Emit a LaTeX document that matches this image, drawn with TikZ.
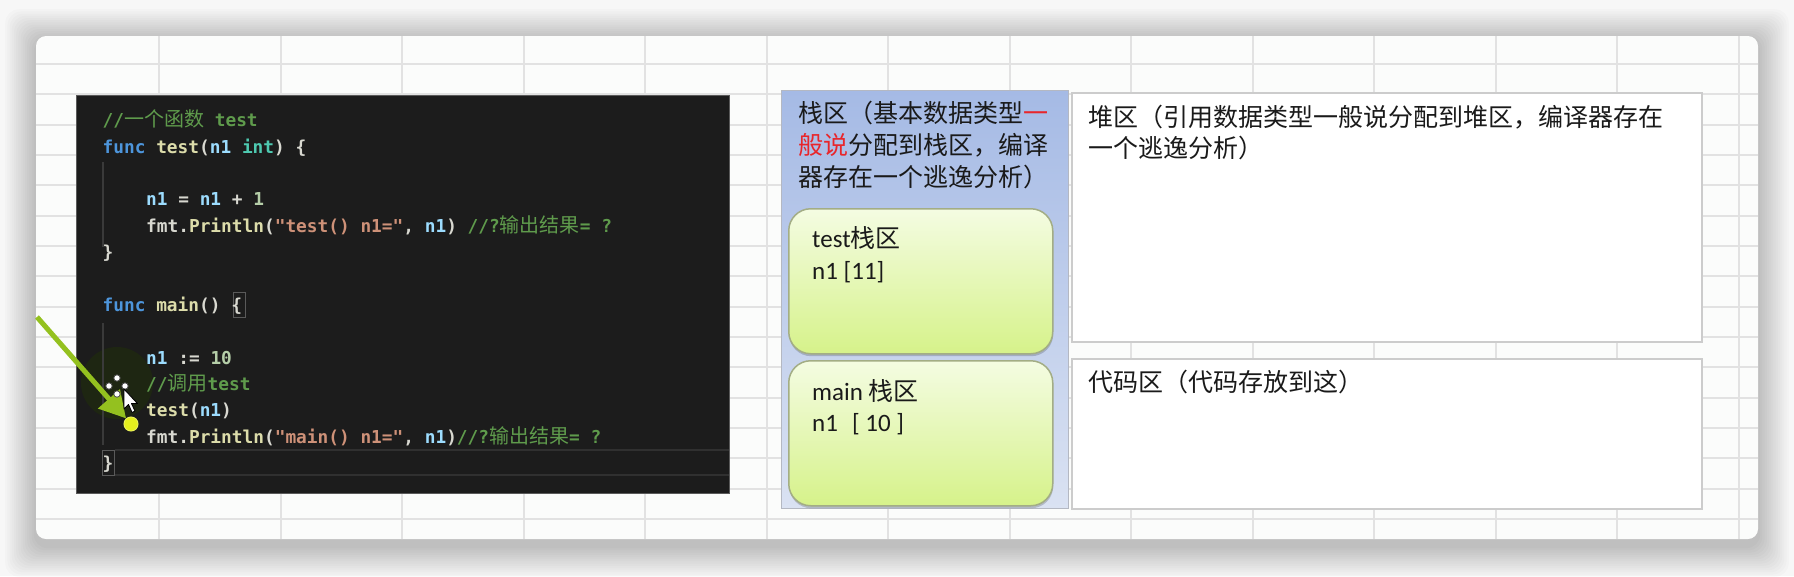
\documentclass[tikz,border=0pt]{standalone}
\usepackage{fontspec}
\setmainfont{Carlito}
\newfontfamily\cjk{Noto Sans CJK SC}
\newfontfamily\codefont{DejaVu Sans Mono}
\usetikzlibrary{arrows.meta}
\definecolor{pagebg}{HTML}{F7F7F7}
\definecolor{gridc}{HTML}{E2E2E2}
\definecolor{cardc}{HTML}{FBFCFB}
\definecolor{codebg}{HTML}{1C1C1C}
\definecolor{codeedge}{HTML}{5A5A5A}
\definecolor{guidec}{HTML}{3A3A3A}
\definecolor{hlc}{HTML}{303030}
\definecolor{ccomc}{HTML}{5F9B4C}
\definecolor{ckeyc}{HTML}{4D95DB}
\definecolor{cfunc}{HTML}{DCDCAA}
\definecolor{cvarc}{HTML}{9CDCFE}
\definecolor{ctypec}{HTML}{4EC9B0}
\definecolor{cstrc}{HTML}{CE9178}
\definecolor{cnumc}{HTML}{B5CEA8}
\definecolor{cplainc}{HTML}{D8D8D0}
\definecolor{haloc}{HTML}{1E2612}
\definecolor{stacktop}{HTML}{A5BAE5}
\definecolor{stackbot}{HTML}{DAE2F2}
\definecolor{stackedge}{HTML}{B4B8C2}
\definecolor{greentop}{HTML}{F4FCE2}
\definecolor{greenbot}{HTML}{D6F28A}
\definecolor{greenedge}{HTML}{A3AD85}
\definecolor{boxedge}{HTML}{CCCCCC}
\definecolor{arrowc}{HTML}{94C11F}
\definecolor{dotc}{HTML}{E4EE1E}
\definecolor{redtxt}{HTML}{E8262B}
\definecolor{txtc}{HTML}{1A1A1A}
\newcommand{\ckw}[1]{\textcolor{ckeyc}{#1}}
\newcommand{\cfn}[1]{\textcolor{cfunc}{#1}}
\newcommand{\cvr}[1]{\textcolor{cvarc}{#1}}
\newcommand{\cty}[1]{\textcolor{ctypec}{#1}}
\newcommand{\cst}[1]{\textcolor{cstrc}{#1}}
\newcommand{\cnm}[1]{\textcolor{cnumc}{#1}}
\newcommand{\ccm}[1]{\textcolor{ccomc}{#1}}
\newcommand{\zhc}[1]{{\cjk\mdseries\fontsize{20}{20}\selectfont #1}}
\begin{document}
\begin{tikzpicture}[x=1pt,y=-1pt,
  codeline/.style={anchor=base west, inner sep=0pt, text=cplainc, font=\codefont\bfseries\fontsize{17.8}{20}\selectfont},
  zhtext/.style={anchor=base west, inner sep=0pt, text=txtc, font=\cjk\fontsize{25}{30}\selectfont},
  boxtext/.style={anchor=base west, inner sep=0pt, text=txtc, font=\fontsize{25}{30}\selectfont},
  gridline/.style={draw=gridc, line width=2pt},
  greenbox/.style={draw=greenedge, line width=1.5pt, rounded corners=22pt, top color=greentop, bottom color=greenbot, anchor=north west, inner sep=0pt},
  greenshadow/.style={fill=black, opacity=0.18, rounded corners=22pt, anchor=north west, inner sep=0pt},
  plainbox/.style={draw=boxedge, line width=1.5pt, fill=white, anchor=north west, inner sep=0pt},
  stackbox/.style={draw=stackedge, line width=1.2pt, top color=stacktop, bottom color=stackbot, anchor=north west, inner sep=0pt},
]
\useasboundingbox (0,0) rectangle (1794,576);
% page and card shadow
\fill[pagebg] (0,0) rectangle (1794,576);
\foreach \k in {1,...,14}{
  \fill[black, opacity=0.014, rounded corners=14pt] ({36-\k*2.2},{40-\k*2.2}) rectangle ({1758+\k*2.2},{546+\k*2.2});
}
\fill[cardc, rounded corners=10pt] (36,36) rectangle (1758,539);
% grid
\begin{scope}
\clip[rounded corners=10pt] (36,36) rectangle (1758,539);
\foreach \i in {0,...,13}{ \draw[gridline] ({159+121.5*\i},36) -- ({159+121.5*\i},539); }
\foreach \j in {0,...,15}{ \draw[gridline] (36,{64+30.33*\j}) -- (1758,{64+30.33*\j}); }
\end{scope}

% code panel
\node[draw=codeedge, line width=1pt, fill=codebg, anchor=north west, inner sep=0pt, minimum width=653pt, minimum height=398pt] (code) at (76,95) {};
\begin{scope}
\clip (76,95) rectangle (729,493);
\fill[haloc] (117,383) circle (36);
\end{scope}
\draw[guidec, line width=1.5pt] (103,162) -- (103,247);
\draw[guidec, line width=1.5pt] (103,323) -- (103,445);
\draw[hlc, line width=1.5pt] (115,450) -- (729,450);
\draw[hlc, line width=1.5pt] (115,475) -- (729,475);
\draw[codeedge, line width=1pt] (233,292) rectangle (245,317);
\draw[codeedge, line width=1pt] (102,450) rectangle (114,475);

\node[codeline] (c1) at (102.5,126) {\ccm{//\zhc{一个函数} test}};
\node[codeline] (c2) at (102.5,153) {\ckw{func} \cfn{test}(\cvr{n1} \cty{int}) \{};
\node[codeline] (c4) at (146,205) {\cvr{n1} = \cvr{n1} + \cnm{1}};
\node[codeline] (c5) at (146,232) {fmt.\cfn{Println}(\cst{"test() n1="}, \cvr{n1}) \ccm{//?\zhc{输出结果}= ?}};
\node[codeline] (c6) at (102.5,258) {\}};
\node[codeline] (c8) at (102.5,311) {\ckw{func} \cfn{main}() \{};
\node[codeline] (c10) at (146,364) {\cvr{n1} := \cnm{10}};
\node[codeline] (c11) at (146,390) {\ccm{//\zhc{调用}test}};
\node[codeline] (c12) at (146,416) {\cfn{test}(\cvr{n1})};
\node[codeline] (c13) at (146,443) {fmt.\cfn{Println}(\cst{"main() n1="}, \cvr{n1})\ccm{//?\zhc{输出结果}= ?}};
\node[codeline] (c14) at (102.5,469) {\}};

% green arrow with dot and cursor
\coordinate (astart) at (37,317);
\node[circle, fill=dotc, draw=dotc!70!white, line width=1pt, minimum size=14pt, inner sep=0pt] (dot) at (131,424) {};
\draw[arrowc, line width=5pt, -{Triangle[length=26pt,width=28pt]}] (astart) -- (dot);
\node[circle, fill=dotc, minimum size=13pt, inner sep=0pt] at (dot.center) {};
\foreach \dx/\dy in {0/-8,0/8,-8/0,8/0}{
  \draw[black!70, fill=white, line width=0.8pt] ({117+\dx},{386+\dy}) circle (3.2);
}
\draw[black, fill=white, line width=0.9pt, line join=round] (124,389) -- (124,409) -- (128.5,404.5) -- (132,412.5) -- (135,411) -- (131.5,403.5) -- (137.5,403.5) -- cycle;

% stack area
\node[stackbox, minimum width=287pt, minimum height=418pt] (stack) at (781,90) {};
\node[zhtext] (t1) at (798,122) {栈区（基本数据类型\textcolor{redtxt}{一}};
\node[zhtext] (t2) at (798,154) {\textcolor{redtxt}{般说}分配到栈区，编译};
\node[zhtext] (t3) at (798,186) {器存在一个逃逸分析）};

\node[greenshadow, minimum width=264pt, minimum height=145pt] at (789,211) {};
\node[greenbox, minimum width=264pt, minimum height=145pt] (testbox) at (788,208) {};
\node[boxtext] (tb1) at (812,247) {test{\cjk 栈区}};
\node[boxtext] (tb2) at (812,279) {n1 [11]};

\node[greenshadow, minimum width=264pt, minimum height=145pt] at (789,363) {};
\node[greenbox, minimum width=264pt, minimum height=145pt] (mainbox) at (788,360) {};
\node[boxtext] (mb1) at (812,400) {main {\cjk 栈区}};
\node[boxtext] (mb2) at (812,431) {n1\hspace{14pt}[ 10 ]};

% heap and code areas
\node[plainbox, minimum width=630pt, minimum height=249pt] (heap) at (1071,92) {};
\node[zhtext] (h1) at (1088,126) {堆区（引用数据类型一般说分配到堆区，编译器存在};
\node[zhtext] (h2) at (1088,157) {一个逃逸分析）};

\node[plainbox, minimum width=630pt, minimum height=150pt] (codearea) at (1071,358) {};
\node[zhtext] (ca1) at (1088,391) {代码区（代码存放到这）};
\end{tikzpicture}
\end{document}
